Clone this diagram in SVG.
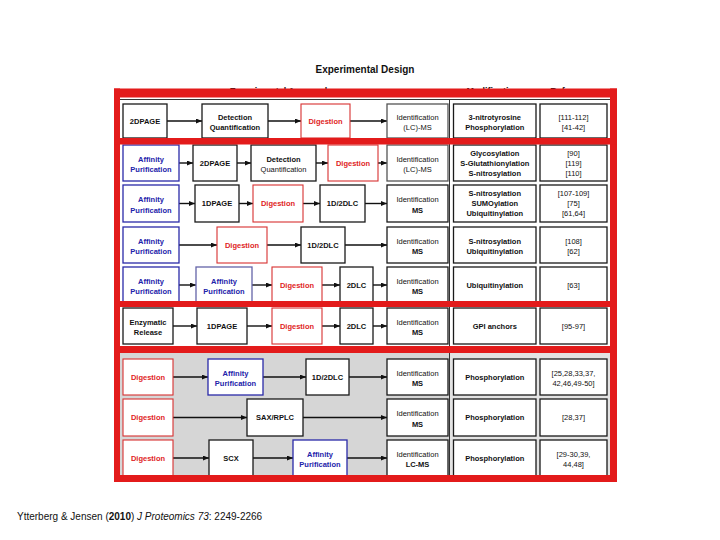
<svg xmlns="http://www.w3.org/2000/svg" width="720" height="540" viewBox="0 0 720 540">
<style>
.t{font-family:"Liberation Sans",Arial,sans-serif;font-size:7.5px;font-weight:bold;text-anchor:middle;fill:#111}
.n{font-weight:normal}
.tr{fill:#e02424}
.tb{fill:#2222aa}
.bx{fill:#fff;stroke:#1a1a1a;stroke-width:1.3}
.gx{fill:#fff;stroke:#555;stroke-width:1.3}
.rb{fill:#fff;stroke:#d83030;stroke-width:1.1}
.bb{fill:#fff;stroke:#2a2aa8;stroke-width:1.3}
.pb{fill:#fff;stroke:#6464a8;stroke-width:1.3}
.ar{stroke:#111;stroke-width:1.4;fill:none;marker-end:url(#ah)}
.red{fill:#e31b1b}
.hd{font-family:"Liberation Sans",Arial,sans-serif;font-size:9px;font-weight:bold;text-anchor:middle;fill:#111}
</style>
<defs>
<marker id="ah" markerWidth="6" markerHeight="5" refX="6" refY="2.5" orient="auto" markerUnits="userSpaceOnUse"><path d="M0,0 L6,2.5 L0,5 z" fill="#111"/></marker>
</defs>
<rect width="720" height="540" fill="#fff"/>
<text x="365" y="73" class="hd" style="font-size:10px">Experimental Design</text>
<text x="285" y="94" class="hd">Experimental Approaches</text>
<text x="493" y="94" class="hd">Modification</text>
<text x="572" y="94" class="hd">Reference</text>

<rect x="120" y="353" width="329.5" height="122" fill="#d6d6d6"/>
<rect x="449.5" y="353" width="161" height="122" fill="#e3e3e3"/>
<g stroke="#333" stroke-width="1" fill="none">
<line x1="119" y1="99.5" x2="611" y2="99.5"/>
<line x1="449.5" y1="99" x2="449.5" y2="475"/>
<line x1="610.5" y1="99" x2="610.5" y2="475"/>
</g>

<g id="connectors">
<line class="ar" x1="167" y1="121" x2="202" y2="121"/>
<line class="ar" x1="268" y1="121" x2="301" y2="121"/>
<line class="ar" x1="350" y1="121" x2="387" y2="121"/>
<line class="ar" x1="179" y1="163" x2="193" y2="163"/>
<line class="ar" x1="237" y1="163" x2="251" y2="163"/>
<line class="ar" x1="316" y1="163" x2="328" y2="163"/>
<line class="ar" x1="378" y1="163" x2="387" y2="163"/>
<line class="ar" x1="179" y1="203.5" x2="195" y2="203.5"/>
<line class="ar" x1="239" y1="203.5" x2="253" y2="203.5"/>
<line class="ar" x1="303" y1="203.5" x2="320" y2="203.5"/>
<line class="ar" x1="365" y1="203.5" x2="387" y2="203.5"/>
<line class="ar" x1="179" y1="245" x2="217" y2="245"/>
<line class="ar" x1="267" y1="245" x2="301" y2="245"/>
<line class="ar" x1="345" y1="245" x2="387" y2="245"/>
<line class="ar" x1="179" y1="285" x2="196" y2="285"/>
<line class="ar" x1="252" y1="285" x2="272" y2="285"/>
<line class="ar" x1="322" y1="285" x2="340" y2="285"/>
<line class="ar" x1="373" y1="285" x2="387" y2="285"/>
<line class="ar" x1="173" y1="326" x2="197" y2="326"/>
<line class="ar" x1="247" y1="326" x2="272" y2="326"/>
<line class="ar" x1="322" y1="326" x2="340" y2="326"/>
<line class="ar" x1="373" y1="326" x2="387" y2="326"/>
<line class="ar" x1="173" y1="377" x2="208" y2="377"/>
<line class="ar" x1="263" y1="377" x2="306" y2="377"/>
<line class="ar" x1="349" y1="377" x2="387" y2="377"/>
<line class="ar" x1="173" y1="417.5" x2="247" y2="417.5"/>
<line class="ar" x1="303" y1="417.5" x2="387" y2="417.5"/>
<line class="ar" x1="173" y1="458" x2="209" y2="458"/>
<line class="ar" x1="253" y1="458" x2="293" y2="458"/>
<line class="ar" x1="347" y1="458" x2="387" y2="458"/>
</g>

<!-- Row 1 -->
<g id="r1-2dpage"><rect class="bx" x="123" y="104" width="44" height="34"/><text class="t" x="145" y="123.7">2DPAGE</text></g>
<g id="r1-detect"><rect class="bx" x="202" y="104" width="66" height="34"/><text class="t" x="235" y="119.5">Detection</text><text class="t" x="235" y="130">Quantification</text></g>
<g id="r1-dig"><rect class="rb" x="301" y="104" width="49" height="34"/><text class="t tr" x="325.5" y="123.7">Digestion</text></g>
<g id="r1-id"><rect class="gx" x="387" y="104" width="61" height="34"/><text class="t n" x="417.5" y="119.5">Identification</text><text class="t n" x="417.5" y="130">(LC)-MS</text></g>
<g id="r1-mod"><rect class="bx" x="453.5" y="104" width="82.5" height="34"/><text class="t" x="494.75" y="119.5">3-nitrotyrosine</text><text class="t" x="494.75" y="130">Phosphorylation</text></g>
<g id="r1-ref"><rect class="bx" x="540" y="104" width="67" height="34"/><text class="t n" x="573.5" y="119.5">[111-112]</text><text class="t n" x="573.5" y="130">[41-42]</text></g>

<!-- Row 2 -->
<g id="r2-aff"><rect class="bb" x="123" y="145" width="56" height="36"/><text class="t tb" x="151" y="161.5">Affinity</text><text class="t tb" x="151" y="172">Purification</text></g>
<g id="r2-2dpage"><rect class="bx" x="193" y="145" width="44" height="36"/><text class="t" x="215" y="165.7">2DPAGE</text></g>
<g id="r2-detect"><rect class="bx" x="251" y="145" width="65" height="36"/><text class="t" x="283.5" y="161.5">Detection</text><text class="t n" x="283.5" y="172">Quantification</text></g>
<g id="r2-dig"><rect class="rb" x="328" y="145" width="50" height="36"/><text class="t tr" x="353" y="165.7">Digestion</text></g>
<g id="r2-id"><rect class="gx" x="387" y="145" width="61" height="36"/><text class="t n" x="417.5" y="161.5">Identification</text><text class="t n" x="417.5" y="172">(LC)-MS</text></g>
<g id="r2-mod"><rect class="bx" x="453.5" y="145" width="82.5" height="36"/><text class="t" x="494.75" y="155.7">Glycosylation</text><text class="t" x="494.75" y="165.7">S-Glutathionylation</text><text class="t" x="494.75" y="175.7">S-nitrosylation</text></g>
<g id="r2-ref"><rect class="bx" x="540" y="145" width="67" height="36"/><text class="t n" x="573.5" y="155.7">[90]</text><text class="t n" x="573.5" y="165.7">[119]</text><text class="t n" x="573.5" y="175.7">[110]</text></g>

<!-- Row 3 -->
<g id="r3-aff"><rect class="bb" x="123" y="185" width="56" height="37"/><text class="t tb" x="151" y="202">Affinity</text><text class="t tb" x="151" y="212.5">Purification</text></g>
<g id="r3-1dpage"><rect class="bx" x="195" y="185" width="44" height="37"/><text class="t" x="217" y="206.2">1DPAGE</text></g>
<g id="r3-dig"><rect class="rb" x="253" y="185" width="50" height="37"/><text class="t tr" x="278" y="206.2">Digestion</text></g>
<g id="r3-lc"><rect class="bx" x="320" y="185" width="45" height="37"/><text class="t" x="342.5" y="206.2">1D/2DLC</text></g>
<g id="r3-id"><rect class="bx" x="387" y="185" width="61" height="37"/><text class="t n" x="417.5" y="202">Identification</text><text class="t" x="417.5" y="212.5">MS</text></g>
<g id="r3-mod"><rect class="bx" x="453.5" y="185" width="82.5" height="37"/><text class="t" x="494.75" y="196.2">S-nitrosylation</text><text class="t" x="494.75" y="206.2">SUMOylation</text><text class="t" x="494.75" y="216.2">Ubiquitinylation</text></g>
<g id="r3-ref"><rect class="bx" x="540" y="185" width="67" height="37"/><text class="t n" x="573.5" y="196.2">[107-109]</text><text class="t n" x="573.5" y="206.2">[75]</text><text class="t n" x="573.5" y="216.2">[61,64]</text></g>

<!-- Row 4 -->
<g id="r4-aff"><rect class="bb" x="123" y="227" width="56" height="36"/><text class="t tb" x="151" y="243.5">Affinity</text><text class="t tb" x="151" y="254">Purification</text></g>
<g id="r4-dig"><rect class="rb" x="217" y="227" width="50" height="36"/><text class="t tr" x="242" y="247.7">Digestion</text></g>
<g id="r4-lc"><rect class="bx" x="301" y="227" width="44" height="36"/><text class="t" x="323" y="247.7">1D/2DLC</text></g>
<g id="r4-id"><rect class="bx" x="387" y="227" width="61" height="36"/><text class="t n" x="417.5" y="243.5">Identification</text><text class="t" x="417.5" y="254">MS</text></g>
<g id="r4-mod"><rect class="bx" x="453.5" y="227" width="82.5" height="36"/><text class="t" x="494.75" y="243.5">S-nitrosylation</text><text class="t" x="494.75" y="254">Ubiquitinylation</text></g>
<g id="r4-ref"><rect class="bx" x="540" y="227" width="67" height="36"/><text class="t n" x="573.5" y="243.5">[108]</text><text class="t n" x="573.5" y="254">[62]</text></g>

<!-- Row 5 -->
<g id="r5-aff"><rect class="bb" x="123" y="267" width="56" height="36"/><text class="t tb" x="151" y="283.5">Affinity</text><text class="t tb" x="151" y="294">Purification</text></g>
<g id="r5-aff2"><rect class="pb" x="196" y="267" width="56" height="36"/><text class="t tb" x="224" y="283.5">Affinity</text><text class="t tb" x="224" y="294">Purification</text></g>
<g id="r5-dig"><rect class="rb" x="272" y="267" width="50" height="36"/><text class="t tr" x="297" y="287.7">Digestion</text></g>
<g id="r5-lc"><rect class="bx" x="340" y="267" width="33" height="36"/><text class="t" x="356.5" y="287.7">2DLC</text></g>
<g id="r5-id"><rect class="bx" x="387" y="267" width="61" height="36"/><text class="t n" x="417.5" y="283.5">Identification</text><text class="t" x="417.5" y="294">MS</text></g>
<g id="r5-mod"><rect class="bx" x="453.5" y="267" width="82.5" height="36"/><text class="t" x="494.75" y="287.7">Ubiquitinylation</text></g>
<g id="r5-ref"><rect class="bx" x="540" y="267" width="67" height="36"/><text class="t n" x="573.5" y="287.7">[63]</text></g>

<!-- Row 6 -->
<g id="r6-enz"><rect class="bx" x="123" y="308" width="50" height="36"/><text class="t" x="148" y="324.5">Enzymatic</text><text class="t" x="148" y="335">Release</text></g>
<g id="r6-1dpage"><rect class="bx" x="197" y="308" width="50" height="36"/><text class="t" x="222" y="328.7">1DPAGE</text></g>
<g id="r6-dig"><rect class="rb" x="272" y="308" width="50" height="36"/><text class="t tr" x="297" y="328.7">Digestion</text></g>
<g id="r6-lc"><rect class="bx" x="340" y="308" width="33" height="36"/><text class="t" x="356.5" y="328.7">2DLC</text></g>
<g id="r6-id"><rect class="bx" x="387" y="308" width="61" height="36"/><text class="t n" x="417.5" y="324.5">Identification</text><text class="t" x="417.5" y="335">MS</text></g>
<g id="r6-mod"><rect class="bx" x="453.5" y="308" width="82.5" height="36"/><text class="t" x="494.75" y="328.7">GPI anchors</text></g>
<g id="r6-ref"><rect class="bx" x="540" y="308" width="67" height="36"/><text class="t n" x="573.5" y="328.7">[95-97]</text></g>

<!-- Row 7 -->
<g id="r7-dig"><rect class="rb" x="123" y="359" width="50" height="36"/><text class="t tr" x="148" y="379.7">Digestion</text></g>
<g id="r7-aff"><rect class="bb" x="208" y="359" width="55" height="36"/><text class="t tb" x="235.5" y="375.5">Affinity</text><text class="t tb" x="235.5" y="386">Purification</text></g>
<g id="r7-lc"><rect class="bx" x="306" y="359" width="43" height="36"/><text class="t" x="327.5" y="379.7">1D/2DLC</text></g>
<g id="r7-id"><rect class="bx" x="387" y="359" width="61" height="36"/><text class="t n" x="417.5" y="375.5">Identification</text><text class="t" x="417.5" y="386">MS</text></g>
<g id="r7-mod"><rect class="bx" x="453.5" y="359" width="82.5" height="36"/><text class="t" x="494.75" y="379.7">Phosphorylation</text></g>
<g id="r7-ref"><rect class="bx" x="540" y="359" width="67" height="36"/><text class="t n" x="573.5" y="375.5">[25,28,33,37,</text><text class="t n" x="573.5" y="386">42,46,49-50]</text></g>

<!-- Row 8 -->
<g id="r8-dig"><rect class="rb" x="123" y="399" width="50" height="37"/><text class="t tr" x="148" y="420.2">Digestion</text></g>
<g id="r8-sax"><rect class="bx" x="247" y="399" width="56" height="37"/><text class="t" x="275" y="420.2">SAX/RPLC</text></g>
<g id="r8-id"><rect class="bx" x="387" y="399" width="61" height="37"/><text class="t n" x="417.5" y="416">Identification</text><text class="t" x="417.5" y="426.5">MS</text></g>
<g id="r8-mod"><rect class="bx" x="453.5" y="399" width="82.5" height="37"/><text class="t" x="494.75" y="420.2">Phosphorylation</text></g>
<g id="r8-ref"><rect class="bx" x="540" y="399" width="67" height="37"/><text class="t n" x="573.5" y="420.2">[28,37]</text></g>

<!-- Row 9 -->
<g id="r9-dig"><rect class="rb" x="123" y="440" width="50" height="36"/><text class="t tr" x="148" y="460.7">Digestion</text></g>
<g id="r9-scx"><rect class="bx" x="209" y="440" width="44" height="36"/><text class="t" x="231" y="460.7">SCX</text></g>
<g id="r9-aff"><rect class="bb" x="293" y="440" width="54" height="36"/><text class="t tb" x="320" y="456.5">Affinity</text><text class="t tb" x="320" y="467">Purification</text></g>
<g id="r9-id"><rect class="bx" x="387" y="440" width="61" height="36"/><text class="t n" x="417.5" y="456.5">Identification</text><text class="t" x="417.5" y="467">LC-MS</text></g>
<g id="r9-mod"><rect class="bx" x="453.5" y="440" width="82.5" height="36"/><text class="t" x="494.75" y="460.7">Phosphorylation</text></g>
<g id="r9-ref"><rect class="bx" x="540" y="440" width="67" height="36"/><text class="t n" x="573.5" y="456.5">[29-30,39,</text><text class="t n" x="573.5" y="467">44,48]</text></g>

<!-- red frame -->
<g id="red-frame">
<rect class="red" x="114" y="88.5" width="503" height="9"/>
<rect class="red" x="114" y="475" width="503" height="7"/>
<rect class="red" x="114" y="88.5" width="6" height="393.5"/>
<rect class="red" x="610" y="88.5" width="7" height="393.5"/>
<rect class="red" x="114" y="138" width="503" height="6.5"/>
<rect class="red" x="114" y="301" width="503" height="6"/>
<rect class="red" x="114" y="346" width="503" height="7"/>
</g>

<text x="17" y="520" style="font-family:'Liberation Sans',Arial,sans-serif;font-size:10px;fill:#111">Ytterberg &amp; Jensen (<tspan font-weight="bold">2010</tspan>) <tspan font-style="italic">J Proteomics 73</tspan>: 2249-2266</text>
</svg>
